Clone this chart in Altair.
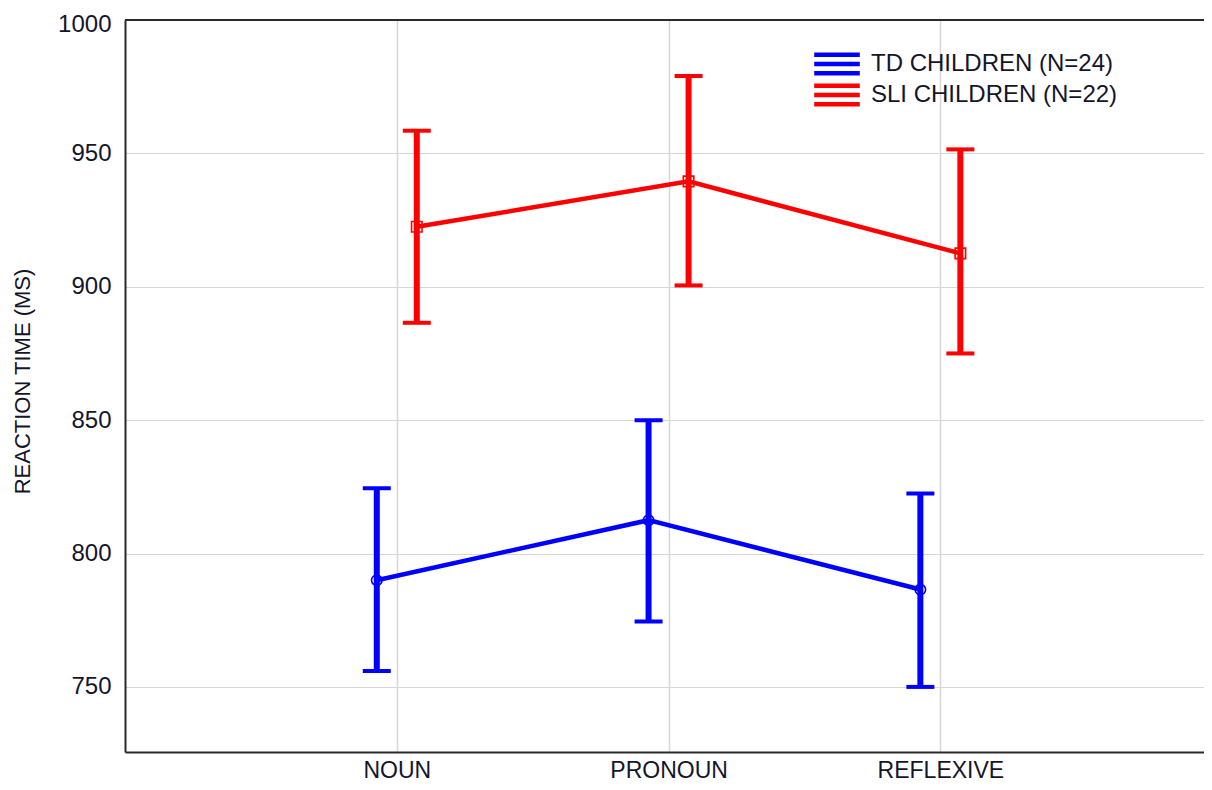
import json
import altair as alt
import pandas as pd

categories = ["NOUN", "PRONOUN", "REFLEXIVE"]
series = ["TD CHILDREN (N=24)", "SLI CHILDREN (N=22)"]
colors = ["#0000ff", "#ff0000"]

td_mean = [790.0, 812.5, 786.5]
td_low = [756.0, 774.5, 750.0]
td_high = [824.5, 850.0, 822.5]

sli_mean = [922.5, 939.5, 912.5]
sli_low = [886.5, 900.5, 875.0]
sli_high = [958.5, 979.0, 951.5]

rows = []
for s, m, lo, hi in [(series[0], td_mean, td_low, td_high),
                     (series[1], sli_mean, sli_low, sli_high)]:
    for i, (c, a, b, d) in enumerate(zip(categories, m, lo, hi)):
        rows.append({"cat": c, "idx": i + 1, "series": s, "mean": a, "low": b, "high": d})
df = pd.DataFrame(rows)

W, H = 1079, 732
Y_MIN = 725.6
TXT = "#15152a"
FONT = "Liberation Sans"

# legend glyph: three horizontal strokes (error bar caps + line), scaled by sqrt(size)/2
legend_path = "M-2.85,-1.16H2.85M-2.85,0H2.85M-2.85,1.16H2.85"

color = alt.Color(
    "series:N",
    scale=alt.Scale(domain=series, range=colors),
    legend=alt.Legend(
        title=None, orient="none", legendX=700, legendY=32,
        symbolType=legend_path, symbolSize=256, symbolStrokeWidth=4.5,
        symbolFillColor="transparent", symbolOpacity=1,
        labelFontSize=24, labelFont=FONT, labelColor=TXT, labelLimit=0,
        labelOffset=22, rowPadding=-19, padding=0,
    ),
)

label_expr = "%s[datum.value] || ''" % json.dumps([""] + categories)
xenc = alt.X(
    "idx:Q",
    scale=alt.Scale(domain=[0, 3.97], nice=False, zero=False),
    axis=alt.Axis(title=None, values=[1, 2, 3], labelExpr=label_expr,
                  labelAngle=0, labelFontSize=23, labelFont=FONT,
                  labelColor=TXT, labelPadding=7, tickSize=0,
                  grid=True, gridColor="#d6d6d6", gridWidth=1.5,
                  domainColor="#2a2a2a", domainWidth=2),
)
yscale = alt.Scale(domain=[Y_MIN, 1000], nice=False, zero=False)
yaxis = alt.Axis(title="REACTION TIME (MS)", values=[750, 800, 850, 900, 950, 1000],
                 format="d",
                 labelFontSize=24, labelFont=FONT, labelColor=TXT,
                 labelPadding=14, tickSize=0,
                 labelFlush=True, labelFlushOffset=8,
                 titleFontSize=22, titleFontWeight="normal", titleFont=FONT,
                 titleColor=TXT, titleX=-103, titleY=361, titleAngle=-90,
                 titleAlign="center", titleBaseline="middle",
                 grid=True, gridColor="#d6d6d6", gridWidth=1,
                 domainColor="#2a2a2a", domainWidth=2)

layers = []
for s, off, shape, sz in [(series[0], -20, "circle", 110), (series[1], 20, "square", 110)]:
    base = alt.Chart(df).transform_filter(alt.datum.series == s)
    line = base.mark_line(strokeWidth=4.5, xOffset=off).encode(
        x=xenc, y=alt.Y("mean:Q", scale=yscale, axis=yaxis), color=color)
    bar = base.mark_rule(strokeWidth=6, xOffset=off).encode(
        x=xenc, y=alt.Y("low:Q", scale=yscale), y2="high:Q", color=color)
    cap_hi = base.mark_tick(orient="horizontal", thickness=4, size=28,
                            xOffset=off, opacity=1).encode(
        x=xenc, y=alt.Y("high:Q", scale=yscale), color=color)
    cap_lo = base.mark_tick(orient="horizontal", thickness=4, size=28,
                            xOffset=off, opacity=1).encode(
        x=xenc, y=alt.Y("low:Q", scale=yscale), color=color)
    pts = base.mark_point(shape=shape, filled=False, size=sz, strokeWidth=1.6,
                          xOffset=off, opacity=1).encode(
        x=xenc, y=alt.Y("mean:Q", scale=yscale), color=color)
    layers += [line, bar, cap_hi, cap_lo, pts]

top_border = alt.Chart(pd.DataFrame({"k": [0]})).mark_rule(
    color="#2a2a2a", strokeWidth=2).encode(
    x=alt.value(0), x2=alt.value(W), y=alt.value(0))

chart = alt.layer(*layers, top_border).properties(
    width=W, height=H,
    autosize=alt.AutoSizeParams(type="none"),
    padding={"left": 117, "top": 12, "right": 0, "bottom": 30},
    background="white",
).configure_view(stroke=None)

chart.save("out.html", embed_options={"renderer": "svg", "actions": False})
